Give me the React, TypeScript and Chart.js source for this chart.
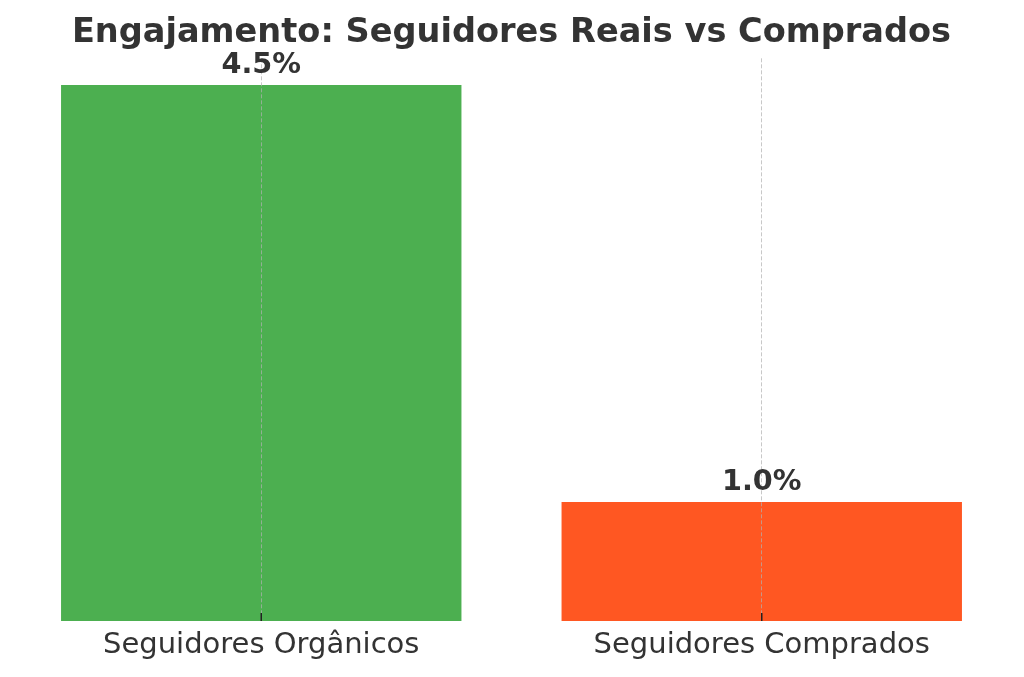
import { useEffect, useRef } from "react";
import { Chart, registerables } from "chart.js";

Chart.register(...registerables);

const categories = ["Seguidores Orgânicos", "Seguidores Comprados"];
const engagement = [4.5, 1.0];
const barColors = ["#4CAF50", "#FF5722"];
const chartTitle = "Engajamento: Seguidores Reais vs Comprados";

const FONT = "'DejaVu Sans', sans-serif";
const TEXT = "#333333";

// value labels above the bars + small inward tick marks at the bottom
const barExtras = {
  id: "barExtras",
  afterDraw(chart: any) {
    const { ctx, chartArea, scales } = chart;
    const meta = chart.getDatasetMeta(0);
    ctx.save();
    ctx.fillStyle = TEXT;
    ctx.font = `bold 28.7px ${FONT}`;
    ctx.textAlign = "center";
    ctx.textBaseline = "alphabetic";
    meta.data.forEach((bar: any, i: number) => {
      ctx.fillText(`${engagement[i].toFixed(1)}%`, bar.x, bar.y - 12);
    });
    ctx.strokeStyle = "#222222";
    ctx.lineWidth = 1.5;
    categories.forEach((_, i) => {
      const x = scales.x.getPixelForValue(i);
      ctx.beginPath();
      ctx.moveTo(x, chartArea.bottom - 8);
      ctx.lineTo(x, chartArea.bottom);
      ctx.stroke();
    });
    ctx.restore();
  },
};

export default function App() {
  const canvasRef = useRef<HTMLCanvasElement | null>(null);

  useEffect(() => {
    document.body.style.margin = "0";
    if (!canvasRef.current) return;
    const yMax = Math.max(...engagement) * 1.05;
    const chart = new Chart(canvasRef.current, {
      type: "bar",
      data: {
        datasets: [
          {
            data: engagement.map((v, i) => ({ x: i, y: v })),
            backgroundColor: barColors,
            borderWidth: 0,
            barPercentage: 0.8,
            categoryPercentage: 1,
          },
        ],
      },
      options: {
        animation: false,
        responsive: true,
        maintainAspectRatio: false,
        layout: { padding: { left: 16, right: 17, top: 0, bottom: 0 } },
        plugins: {
          legend: { display: false },
          tooltip: { enabled: false },
          title: {
            display: true,
            text: chartTitle,
            color: TEXT,
            font: { family: FONT, size: 33.6, weight: "bold" },
            padding: { top: 13, bottom: 5 },
          },
        },
        scales: {
          x: {
            type: "linear",
            min: -0.49,
            max: 1.49,
            offset: false,
            afterBuildTicks: (scale: any) => {
              scale.ticks = categories.map((_, i) => ({ value: i }));
            },
            afterFit: (scale: any) => {
              scale.height = 56;
            },
            grid: {
              color: "rgba(176,176,176,0.7)",
              lineWidth: 1,
              drawTicks: false,
              offset: false,
              z: 1,
            },
            border: { display: false, dash: [4, 2] },
            ticks: {
              color: TEXT,
              padding: 7,
              font: { family: FONT, size: 29 },
              callback: (v: any) => categories[Math.round(Number(v))] ?? "",
            },
          },
          y: {
            display: false,
            min: 0,
            max: yMax,
          },
        },
      },
      plugins: [barExtras],
    });

    return () => chart.destroy();
  }, []);

  return (
    <div style={{ width: 1024, height: 677, position: "relative" }}>
      <canvas ref={canvasRef} />
    </div>
  );
}
